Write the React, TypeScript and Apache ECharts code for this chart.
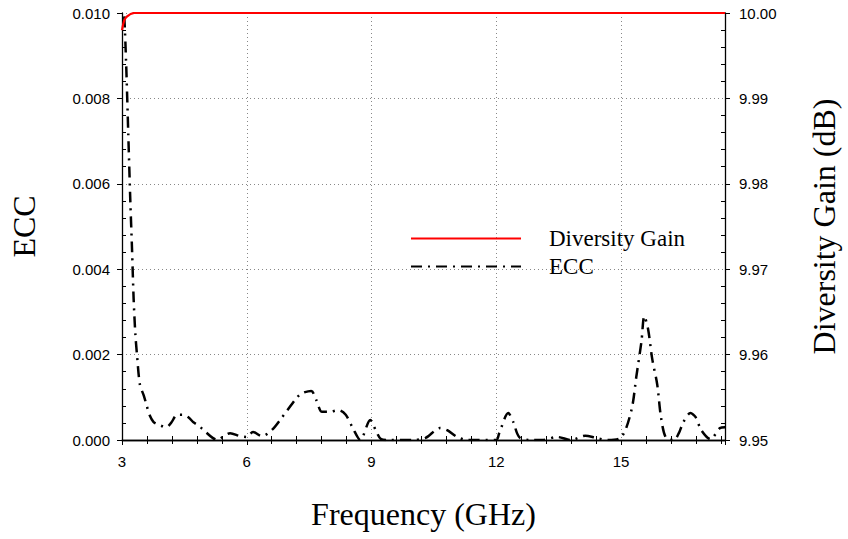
import React, { useEffect, useRef } from "react";
import * as echarts from "echarts";

const freqECC: number[] = [
  3.0, 3.05, 3.1, 3.15, 3.2, 3.24, 3.28, 3.32, 3.36, 3.43, 3.52, 3.59, 3.66, 3.76, 3.9, 4.07, 4.18, 4.33, 4.47, 4.61,
  4.71, 4.85, 5.01, 5.18, 5.3, 5.42, 5.6, 5.84, 6.0, 6.15, 6.36, 6.6, 6.84, 6.98, 7.22, 7.34, 7.55, 7.67, 7.81, 7.98,
  8.21, 8.38, 8.55, 8.73, 8.97, 9.1, 9.23, 9.4, 10.0, 10.3, 10.65, 10.82, 11.06, 11.3, 12.0, 12.07, 12.29, 12.41, 12.55,
  12.8, 13.1, 13.47, 13.8, 14.14, 14.4, 14.68, 15.01, 15.25, 15.37, 15.49, 15.56, 15.65, 15.75, 15.87, 15.96, 16.08,
  16.27, 16.39, 16.5, 16.67, 16.79, 16.93, 17.15, 17.38, 17.5,
];
const eccValues: number[] = [
  0.0105, 0.01, 0.0088, 0.0072, 0.0056, 0.0045, 0.0033, 0.0025, 0.002, 0.0013, 0.00105, 0.00082, 0.00059, 0.00042,
  0.00035, 0.0003, 0.0004, 0.00059, 0.00059, 0.00052, 0.00042, 0.00033, 0.00019, 0.00005, 0.0, 0.00007, 0.00016,
  0.00009, 0.00007, 0.00019, 0.00009, 0.00023, 0.00052, 0.0007, 0.00101, 0.0011, 0.00115, 0.00094, 0.00066, 0.00066,
  0.0007, 0.00059, 0.00028, 0.0, 0.00047, 0.00023, 0.00002, 0.0, 0.0, 0.00005, 0.00028, 0.00023, 0.00007, 0.0, 0.0,
  0.00016, 0.00063, 0.00042, 0.00007, 0.0, 0.0, 0.00007, 0.0, 0.0001, 0.00005, 0.0, 0.00007, 0.0007, 0.0015, 0.0023,
  0.0029, 0.0026, 0.0019, 0.0013, 0.00054, 0.00005, 0.0, 0.00016, 0.00042, 0.00063, 0.00054, 0.00023, 0.00002,
  0.00028, 0.0003,
];
const freqDG: number[] = [3.0, 3.03, 3.06, 3.1, 3.15, 3.22, 3.3, 17.5];
const dgValues: number[] = [9.998, 9.9987, 9.9992, 9.9995, 9.9997, 9.9999, 10.0, 10.0];

const xTickLabels = ["3", "6", "9", "12", "15"];
const eccTickLabels = ["0.000", "0.002", "0.004", "0.006", "0.008", "0.010"];
const dgTickLabels = ["9.95", "9.96", "9.97", "9.98", "9.99", "10.00"];

const SANS = "'Liberation Sans', Arial, sans-serif";
const SERIF = "'Liberation Serif', 'Times New Roman', serif";

export default function App() {
  const ref = useRef<HTMLDivElement>(null);
  useEffect(() => {
    if (!ref.current) return;
    const chart = echarts.init(ref.current, undefined, { renderer: "svg" });
    const axisLine = { show: true, lineStyle: { color: "#000", width: 1.3 } };
    const xBase = { type: "value", min: 3, max: 17.5, interval: 3 } as any;
    const yEcc = { type: "value", min: 0, max: 0.01, interval: 0.002 } as any;
    const yDg = { type: "value", min: 9.95, max: 10.0, interval: 0.01 } as any;
    const hiddenLabel = { show: false };
    const minorIn = { show: true, splitNumber: 5, length: 4, lineStyle: { color: "#000", width: 1 } };

    chart.setOption({
      animation: false,
      backgroundColor: "#fff",
      grid: { left: 120, right: 116, top: 13, bottom: 99, containLabel: false },
      legend: {
        orient: "vertical",
        left: 405,
        top: 222,
        itemWidth: 110,
        itemHeight: 18,
        itemGap: 5,
        data: ["Diversity Gain", "ECC"],
        itemStyle: { opacity: 0, borderWidth: 0 },
        textStyle: { fontFamily: SERIF, fontSize: 23, color: "#000", padding: [0, 0, 0, 23] },
      },
      xAxis: [
        {
          ...xBase,
          position: "bottom",
          name: "Frequency (GHz)",
          nameLocation: "middle",
          nameGap: 58,
          nameTextStyle: { fontFamily: SERIF, fontSize: 32, color: "#000" },
          axisLine,
          axisTick: { show: true, inside: false, length: 5, lineStyle: { color: "#000" } },
          axisLabel: {
            margin: 14,
            fontFamily: SANS,
            fontSize: 15,
            color: "#000",
            showMaxLabel: false,
            formatter: (v: number) => {
              const i = Math.round((v - 3) / 3);
              return Math.abs(v - (3 + 3 * i)) < 1e-6 && xTickLabels[i] ? xTickLabels[i] : "";
            },
          },
          splitLine: { show: true, lineStyle: { type: [1, 3], color: "#888", width: 1 } },
        },
        {
          ...xBase,
          position: "top",
          axisLine,
          axisTick: { show: true, inside: true, length: 5, lineStyle: { color: "#000" } },
          minorTick: minorIn,
          axisLabel: hiddenLabel,
          splitLine: { show: false },
        },
        {
          ...xBase,
          position: "bottom",
          axisLine: { show: false },
          axisTick: { show: false, inside: true },
          minorTick: minorIn,
          axisLabel: hiddenLabel,
          splitLine: { show: false },
        },
      ],
      yAxis: [
        {
          ...yEcc,
          position: "left",
          name: "ECC",
          nameLocation: "middle",
          nameGap: 82,
          nameRotate: 90,
          nameTextStyle: { fontFamily: SERIF, fontSize: 32, color: "#000" },
          axisLine,
          axisTick: { show: true, inside: false, length: 5, lineStyle: { color: "#000" } },
          axisLabel: {
            margin: 12,
            fontFamily: SANS,
            fontSize: 15,
            color: "#000",
            formatter: (v: number) => eccTickLabels[Math.round(v / 0.002)] ?? "",
          },
          splitLine: { show: true, lineStyle: { type: [1, 3], color: "#888", width: 1 } },
        },
        {
          ...yDg,
          position: "right",
          name: "Diversity Gain (dB)",
          nameLocation: "middle",
          nameGap: 83,
          nameRotate: 90,
          nameTextStyle: { fontFamily: SERIF, fontSize: 32, color: "#000" },
          axisLine,
          axisTick: { show: true, inside: false, length: 5, lineStyle: { color: "#000" } },
          axisLabel: {
            margin: 14,
            fontFamily: SANS,
            fontSize: 15,
            color: "#000",
            formatter: (v: number) => dgTickLabels[Math.round((v - 9.95) / 0.01)] ?? "",
          },
          splitLine: { show: false },
        },
        {
          ...yEcc,
          position: "left",
          axisLine: { show: false },
          axisTick: { show: false, inside: true },
          minorTick: minorIn,
          axisLabel: hiddenLabel,
          splitLine: { show: false },
        },
        {
          ...yDg,
          position: "right",
          axisLine: { show: false },
          axisTick: { show: false, inside: true },
          minorTick: minorIn,
          axisLabel: hiddenLabel,
          splitLine: { show: false },
        },
      ],
      series: [
        {
          name: "Diversity Gain",
          type: "line",
          xAxisIndex: 0,
          yAxisIndex: 1,
          data: freqDG.map((f, i) => [f, dgValues[i]]),
          showSymbol: false,
          symbol: "none",
          smooth: 0.4,
          lineStyle: { color: "#ff0000", width: 2.2 },
          itemStyle: { color: "#ff0000" },
          z: 3,
        },
        {
          name: "ECC",
          type: "line",
          xAxisIndex: 0,
          yAxisIndex: 0,
          data: freqECC.map((f, i) => [f, eccValues[i]]),
          showSymbol: false,
          symbol: "none",
          smooth: 0.3,
          lineStyle: { color: "#000", width: 2.5, type: [11, 6, 2, 6] },
          itemStyle: { color: "#000" },
          z: 2,
        },
      ],
    });
    return () => chart.dispose();
  }, []);
  return (
    <div
      ref={ref}
      style={{ position: "fixed", left: 0, top: 0, width: 848, height: 539, background: "#fff" }}
    />
  );
}
